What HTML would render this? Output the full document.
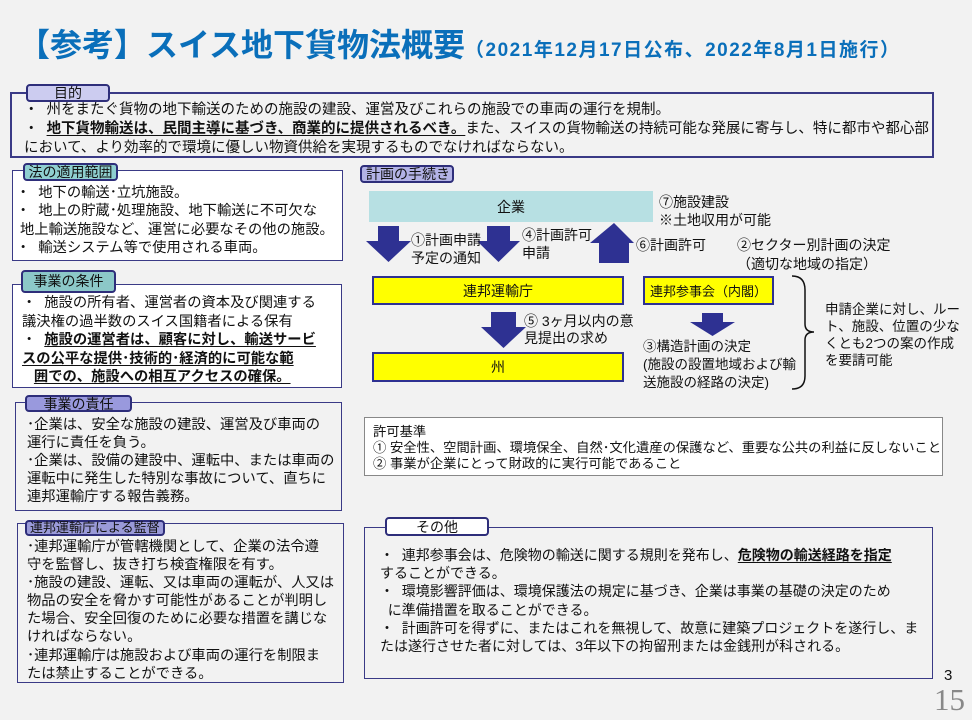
<!DOCTYPE html>
<html><head><meta charset="utf-8"><style>
*{margin:0;padding:0;box-sizing:border-box}
body{width:972px;height:720px;background:#f2f2f2;position:relative;overflow:hidden;font-family:"Liberation Sans","Noto Sans CJK JP",sans-serif;color:#111}
.a{position:absolute;white-space:nowrap}
.box{position:absolute;border:2px solid #3a3a86}
.tab{position:absolute;border:2px solid #2e2e7a;border-radius:4px;font-size:14px;text-align:center;line-height:14px}
.t{position:absolute;font-size:14.3px;line-height:18.3px;white-space:nowrap}
u{text-decoration:underline;text-underline-offset:2px}
.y{position:absolute;background:#ffff00;border:2px solid #2e3192;font-size:14px;display:flex;align-items:center;justify-content:center}
</style></head><body>
<div class="a" style="left:18px;top:26px;font-size:32px;font-weight:bold;color:#0a6fba;line-height:38px">【参考】スイス地下貨物法概要<span style="font-size:19px;letter-spacing:1.5px">（2021年12月17日公布、2022年8月1日施行）</span></div>

<div class="box" style="left:10px;top:92px;width:924px;height:66px;"></div>
<div class="tab" style="left:26px;top:84px;width:84px;height:18px;background:#ccccf0">目的</div>
<div class="t" style="left:24px;top:101px;line-height:19px;font-size:14.5px">・&nbsp; 州をまたぐ貨物の地下輸送のための施設の建設、運営及びこれらの施設での車両の運行を規制。<br>・&nbsp; <u><b>地下貨物輸送は、民間主導に基づき、商業的に提供されるべき。</b></u>また、スイスの貨物輸送の持続可能な発展に寄与し、特に都市や都心部<br>において、より効率的で環境に優しい物資供給を実現するものでなければならない。</div>

<div class="box" style="left:12px;top:170px;width:331px;height:91px;background:#fff;border-width:1.5px"></div>
<div class="tab" style="left:23px;top:163px;width:95px;height:18px;background:#8fcfd0">法の適用範囲</div>
<div class="t" style="left:16px;top:184px">・&nbsp; 地下の輸送･立坑施設。<br>・&nbsp; 地上の貯蔵･処理施設、地下輸送に不可欠な<br>&nbsp;地上輸送施設など、運営に必要なその他の施設。<br>・&nbsp; 輸送システム等で使用される車両。</div>

<div class="box" style="left:12px;top:284px;width:330px;height:104px;background:#fff;border-width:1.5px"></div>
<div class="tab" style="left:21px;top:270px;width:95px;height:23px;background:#8cc8c8;line-height:19px">事業の条件</div>
<div class="t" style="left:22px;top:294px;line-height:18.6px">・&nbsp; 施設の所有者、運営者の資本及び関連する<br>議決権の過半数のスイス国籍者による保有<br>・&nbsp; <u><b>施設の運営者は、顧客に対し、輸送サービ</b></u><br><u><b>スの公平な提供･技術的･経済的に可能な範</b></u><br>&nbsp;&nbsp;&nbsp;<u><b>囲での、施設への相互アクセスの確保。</b></u></div>

<div class="box" style="left:15px;top:402px;width:327px;height:109px;border-width:1.5px"></div>
<div class="tab" style="left:25px;top:395px;width:107px;height:17px;background:#9999dd">事業の責任</div>
<div class="t" style="left:27px;top:416px;line-height:18px">･企業は、安全な施設の建設、運営及び車両の<br>運行に責任を負う。<br>･企業は、設備の建設中、運転中、または車両の<br>運転中に発生した特別な事故について、直ちに<br>連邦運輸庁する報告義務。</div>

<div class="box" style="left:17px;top:523px;width:327px;height:160px;border-width:1.5px"></div>
<div class="tab" style="left:25px;top:520px;width:140px;height:16px;background:#9a9ad8;text-align:left;padding-left:3px;font-size:13px;line-height:12px">連邦運輸庁による監督</div>
<div class="t" style="left:27px;top:538px;line-height:18.1px">･連邦運輸庁が管轄機関として、企業の法令遵<br>守を監督し、抜き打ち検査権限を有す。<br>･施設の建設、運転、又は車両の運転が、人又は<br>物品の安全を脅かす可能性があることが判明し<br>た場合、安全回復のために必要な措置を講じな<br>ければならない。<br>･連邦運輸庁は施設および車両の運行を制限ま<br>たは禁止することができる。</div>

<div class="tab" style="left:360px;top:165px;width:94px;height:18px;background:#b3b3e6;text-align:left;padding-left:4px">計画の手続き</div>
<div class="a" style="left:369px;top:191px;width:284px;height:31px;background:#b7e0e3;font-size:14px;display:flex;align-items:center;justify-content:center">企業</div>

<svg class="a" style="left:0;top:0" width="972" height="720">
<g fill="#2e3192">
<polygon points="378,226 399,226 399,241 411,241 388.5,262 366,241 378,241"/>
<polygon points="487,226 510,226 510,241 520,241 498.5,262 477,241 487,241"/>
<polygon points="599,263 629,263 629,243 634,243 614,223 590,243 599,243"/>
<polygon points="491,312 516,312 516,327 526,327 503.5,348 481,327 491,327"/>
<polygon points="702,313 723,313 723,322 735,322 712.5,336 690,322 702,322"/>
</g>
<path d="M792,276 Q805,276 805,290 L805,324 Q805,332 814,332 Q805,332 805,340 L805,376 Q805,389 792,389" fill="none" stroke="#111" stroke-width="1.5"/>
</svg>

<div class="t" style="left:411px;top:231px;line-height:18px;font-size:14px">①計画申請<br>予定の通知</div>
<div class="t" style="left:522px;top:226px;line-height:18px;font-size:14px">④計画許可<br>申請</div>
<div class="t" style="left:636px;top:236px;font-size:14px">⑥計画許可</div>
<div class="t" style="left:659px;top:193px;line-height:18px;font-size:14px">⑦施設建設<br>※土地収用が可能</div>
<div class="t" style="left:737px;top:236px;line-height:19px;font-size:14px">②セクター別計画の決定<br>（適切な地域の指定）</div>

<div class="y" style="left:372px;top:276px;width:252px;height:29px">連邦運輸庁</div>
<div class="y" style="left:643px;top:276px;width:131px;height:29px;font-size:13px">連邦参事会（内閣）</div>
<div class="t" style="left:524px;top:313px;line-height:17px;font-size:14px">⑤ 3ヶ月以内の意<br>見提出の求め</div>
<div class="t" style="left:643px;top:338px;line-height:18px;font-size:13.5px">③構造計画の決定<br>(施設の設置地域および輸<br>送施設の経路の決定)</div>
<div class="y" style="left:372px;top:352px;width:252px;height:30px">州</div>
<div class="t" style="left:825px;top:301px;line-height:17px;font-size:13.5px">申請企業に対し、ルー<br>ト、施設、位置の少な<br>くとも2つの案の作成<br>を要請可能</div>

<div class="a" style="left:364px;top:417px;width:579px;height:59px;background:#fff;border:1.5px solid #888"></div>
<div class="t" style="left:373px;top:424px;line-height:16px;font-size:13.3px">許可基準<br>① 安全性、空間計画、環境保全、自然･文化遺産の保護など、重要な公共の利益に反しないこと<br>② 事業が企業にとって財政的に実行可能であること</div>

<div class="box" style="left:364px;top:527px;width:569px;height:152px;border-width:1.5px"></div>
<div class="tab" style="left:385px;top:517px;width:104px;height:19px;background:#fff;line-height:16px">その他</div>
<div class="t" style="left:380px;top:546px;line-height:18.2px;font-size:14px">・&nbsp; 連邦参事会は、危険物の輸送に関する規則を発布し、<u><b>危険物の輸送経路を指定</b></u><br>することができる。<br>・&nbsp; 環境影響評価は、環境保護法の規定に基づき、企業は事業の基礎の決定のため<br>&nbsp;&nbsp;に準備措置を取ることができる。<br>・&nbsp; 計画許可を得ずに、またはこれを無視して、故意に建築プロジェクトを遂行し、ま<br>たは遂行させた者に対しては、3年以下の拘留刑または金銭刑が科される。</div>

<div class="a" style="left:944px;top:667px;font-size:15px">3</div>
<div class="a" style="left:934px;top:684px;font-size:31px;font-family:'Liberation Serif',serif;color:#888;line-height:32px">15</div>
</body></html>
